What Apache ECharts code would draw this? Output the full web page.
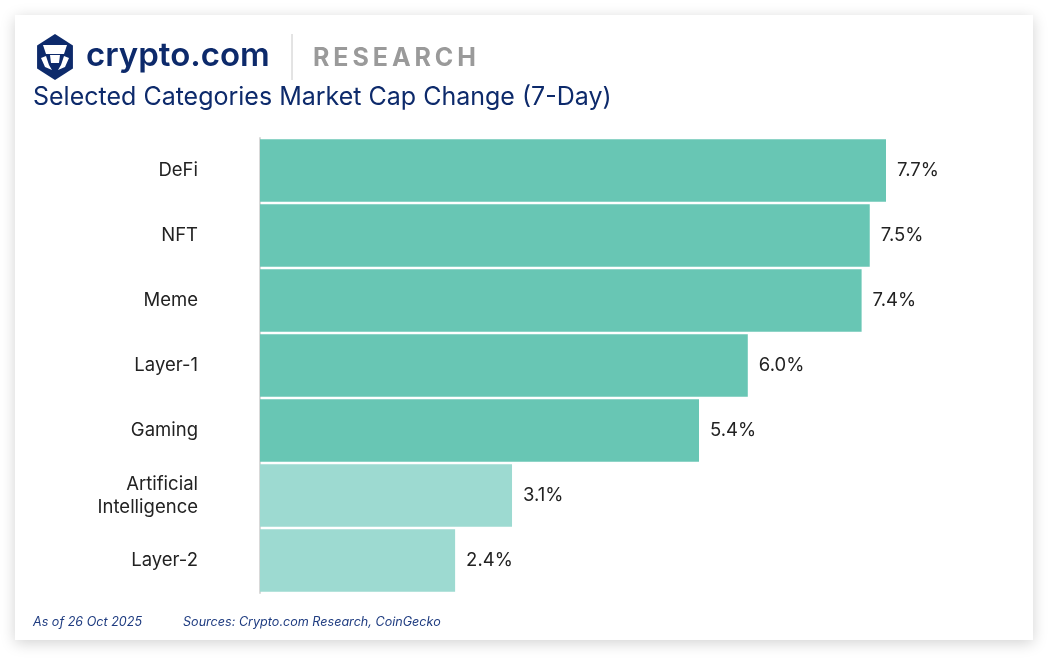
<!DOCTYPE html>
<html><head><meta charset="utf-8">
<script src="https://cdn.jsdelivr.net/npm/echarts@6/dist/echarts.min.js"></script>
<style>html,body{margin:0;padding:0;background:#fff;}#c{width:1057px;height:669px;}</style>
</head><body><div id="c"></div>
<script>
const categories = ['DeFi','NFT','Meme','Layer-1','Gaming','Artificial\nIntelligence','Layer-2'];
const values = [7.7, 7.5, 7.4, 6.0, 5.4, 3.1, 2.4];
const highlighted = [true, true, true, true, true, false, false];
const titleText = 'Selected Categories Market Cap Change (7-Day)';
const asOfText = 'As of 26 Oct 2025';
const sourcesText = 'Sources: Crypto.com Research, CoinGecko';

const chart = echarts.init(document.getElementById('c'));
const navy = '#0d2a6b';
const font = 'Inter, "Noto Sans", sans-serif';

const cx = 55, cy = 57, r = 23;
const hex = [];
for (let i = 0; i < 6; i++) {
  const a = Math.PI / 180 * (60 * i - 90);
  hex.push([cx + r * 0.9 * Math.cos(a), cy + r * Math.sin(a)]);
}

chart.setOption({
  animation: false,
  graphic: [
    { type: 'rect', z: -10, shape: { x: 15, y: 15, width: 1018, height: 625 },
      style: { fill: '#fff', shadowBlur: 14, shadowColor: 'rgba(0,0,0,0.18)', shadowOffsetY: 3 } },
    { type: 'polygon', shape: { points: hex }, style: { fill: '#0d2a6b' } },
    { type: 'polygon', shape: { points: [[cx-12,cy-12],[cx+12,cy-12],[cx+9,cy-3],[cx-9,cy-3]] }, style: { fill: '#fff' } },
    { type: 'polygon', shape: { points: [[cx-5,cy-2],[cx+5,cy-2],[cx+4,cy+6],[cx-4,cy+6]] }, style: { fill: '#fff' } },
    { type: 'polygon', shape: { points: [[cx-14,cy+1],[cx-9,cy-1],[cx-6,cy+8],[cx-3,cy+13],[cx-10,cy+10]] }, style: { fill: '#fff' } },
    { type: 'polygon', shape: { points: [[cx+14,cy+1],[cx+9,cy-1],[cx+6,cy+8],[cx+3,cy+13],[cx+10,cy+10]] }, style: { fill: '#fff' } },
    { type: 'text', left: 86, top: 40, style: { text: 'crypto.com', font: '600 33px ' + font, fill: navy } },
    { type: 'line', shape: { x1: 292, y1: 34, x2: 292, y2: 80 }, style: { stroke: '#c8c8c8', lineWidth: 1 } },
    { type: 'text', left: 313, top: 46, style: { text: 'R\u2009E\u2009S\u2009E\u2009A\u2009R\u2009C\u2009H', font: '700 25px ' + font, fill: '#9a9a9a' } },
    { type: 'text', left: 33, top: 85, style: { text: titleText, font: '25px ' + font, fill: navy } },
    { type: 'text', left: 33, top: 616, style: { text: asOfText, font: 'italic 12.6px ' + font, fill: '#1f3c80' } },
    { type: 'text', left: 183, top: 616, style: { text: sourcesText, font: 'italic 12.6px ' + font, fill: '#1f3c80' } }
  ],
  grid: { left: 260, top: 138, width: 626, height: 455, containLabel: false },
  xAxis: { type: 'value', min: 0, max: 7.7, show: false },
  yAxis: {
    type: 'category', inverse: true, data: categories,
    axisLine: { show: true, lineStyle: { color: '#d9d9d9', width: 2 } },
    axisTick: { show: false },
    axisLabel: { margin: 62, color: '#222', fontSize: 18.5, fontFamily: font, align: 'right', lineHeight: 23 }
  },
  series: [{
    type: 'bar', barCategoryGap: '4%',
    data: values.map((v, i) => ({ value: v, itemStyle: { color: highlighted[i] ? '#68c6b4' : '#9ddad1' } })),
    label: { show: true, position: 'right', distance: 11, color: '#222', fontSize: 18.5, fontFamily: font,
      formatter: p => p.value.toFixed(1) + '%' }
  }]
});
</script></body></html>
